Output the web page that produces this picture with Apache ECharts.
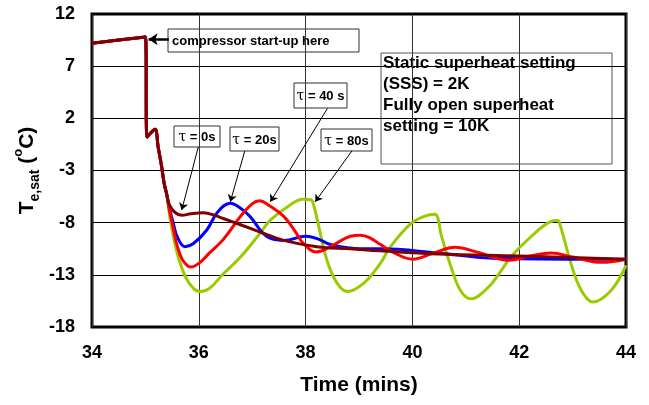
<!DOCTYPE html>
<html>
<head>
<meta charset="utf-8">
<script src="https://cdn.jsdelivr.net/npm/echarts@6/dist/echarts.min.js"></script>
<style>
  html, body { margin: 0; padding: 0; background: #fff; }
  #chart { width: 649px; height: 405px; }
</style>
</head>
<body>
<div id="chart"></div>
<script>
// common start-up part shared by all runs (time in mins, Te,sat in °C)
const startUp = [[34, 9.2], [35.0, 9.8], [35.03, 0.2], [35.1, 0.6], [35.18, 0.95], [35.24, -0.8], [35.3, -2.5], [35.35, -4.2], [35.4, -5.3]]

const tau0 = [[35.45, -6.3], [35.55, -7.0], [35.68, -7.3], [35.85, -7.15], [36.09, -7.05], [36.3, -7.3], [36.46, -7.6],
  [36.78, -8.2], [37.15, -8.9], [37.59, -9.7], [38.21, -10.3], [38.84, -10.5], [39.4, -10.7], [40.5, -11.0], [42.0, -11.2], [44, -11.5]]

const tau20 = [[35.45, -6.6], [35.52, -8.0], [35.6, -9.4], [35.74, -10.3], [35.9, -10.0], [36.15, -8.7], [36.35, -7.0],
  [36.59, -6.15], [36.75, -6.5], [36.96, -7.4], [37.2, -9.0], [37.4, -9.6], [37.6, -9.7], [38.0, -9.3], [38.25, -9.6],
  [38.47, -10.1], [39.03, -10.5], [39.4, -10.5], [40.47, -10.9], [41.5, -11.4], [44, -11.5]]

const tau40 = [[35.45, -6.8], [35.52, -8.5], [35.6, -10.3], [35.7, -11.6], [35.85, -12.25], [36.0, -11.9], [36.2, -10.9],
  [36.46, -9.6], [36.78, -7.4], [37.0, -6.2], [37.14, -5.9], [37.3, -6.3], [37.59, -7.4], [37.8, -8.8], [37.96, -10.0],
  [38.2, -10.8], [38.5, -10.2], [38.84, -9.3], [39.03, -9.2], [39.22, -9.5], [39.4, -10.1], [39.7, -11.0], [40.0, -11.5],
  [40.4, -10.9], [40.8, -10.35], [41.2, -10.8], [41.8, -11.6], [42.2, -11.2], [42.6, -10.9], [43.0, -11.3], [43.55, -11.8], [44.0, -11.5]]

const tau80 = [[35.45, -7.2], [35.5, -8.7], [35.6, -11.0], [35.75, -13.2], [35.9, -14.3], [36.03, -14.6], [36.2, -14.3],
  [36.46, -12.9], [36.78, -11.3], [37.15, -9.0], [37.34, -7.75], [37.71, -6.3], [37.95, -5.75], [38.1, -5.8], [38.15, -6.3],
  [38.22, -7.75], [38.4, -11.6], [38.59, -13.8], [38.78, -14.6], [39.09, -13.8], [39.4, -11.9], [39.59, -10.3], [39.97, -8.1],
  [40.22, -7.4], [40.42, -7.2], [40.48, -7.6], [40.53, -9.0], [40.72, -12.2], [40.9, -14.5], [41.09, -15.3], [41.4, -14.3],
  [41.65, -12.7], [41.84, -11.3], [42.22, -9.35], [42.59, -7.9], [42.72, -7.8], [42.77, -8.3], [42.81, -9.0], [43.03, -12.9],
  [43.2, -14.8], [43.38, -15.6], [43.72, -14.5], [44.0, -12.1]]

// arrows: [from, to] in data coords
const arrows = [
  [[38.41, 2.96], [37.34, -6.0]],
  [[35.99, -0.75], [35.68, -6.79]],
  [[36.86, -1.14], [36.59, -6.0]],
  [[38.87, -1.1], [38.18, -6.0]]
]
const startArrow = [[35.44, 9.57], [35.06, 9.57]]

const FONT = '"Liberation Sans", Arial, sans-serif'
const chart = echarts.init(document.getElementById('chart'))

const curve = (name, data, color) => ({
  name,
  type: 'line',
  data: startUp.concat(data),
  showSymbol: false,
  smooth: 0.4,
  lineStyle: { width: 3, color },
  itemStyle: { color },
  silent: true
})

const tauBox = (x, y, w, h, txt) => ([
  { type: 'rect', shape: { x, y, width: w, height: h }, style: { fill: '#fff', stroke: '#333', lineWidth: 1 } },
  {
    type: 'text', x: x + w / 2, y: y + h / 2 + 1,
    style: {
      text: '{g|τ} = ' + txt, align: 'center', verticalAlign: 'middle',
      font: 'bold 13px ' + FONT, fill: '#000',
      rich: { g: { fontFamily: '"DejaVu Serif", serif', fontWeight: 'normal', fontSize: 14, fill: '#000' } }
    }
  }
])

const option = {
  backgroundColor: '#fff',
  animation: false,
  grid: { left: 92, right: 23, top: 14, bottom: 78, show: true, borderColor: '#000', borderWidth: 3, backgroundColor: '#fff' },
  xAxis: {
    type: 'value', min: 34, max: 44, interval: 2,
    axisLine: { show: false }, axisTick: { show: false },
    axisLabel: { color: '#000', fontWeight: 'bold', fontSize: 18, fontFamily: FONT, margin: 17 },
    splitLine: { lineStyle: { color: '#333', width: 1 } },
    name: 'Time (mins)', nameLocation: 'middle', nameGap: 48, nameMoveOverlap: false,
    nameTextStyle: { color: '#000', fontWeight: 'bold', fontSize: 21, fontFamily: FONT }
  },
  yAxis: {
    type: 'value', min: -18, max: 12, interval: 5,
    axisLine: { show: false }, axisTick: { show: false },
    axisLabel: { color: '#000', fontWeight: 'bold', fontSize: 18, fontFamily: FONT, margin: 17 },
    splitLine: { lineStyle: { color: '#000', width: 1 } },
    name: '{t|T}{s|e,sat}{t| (}{o|o}{t|C)}', nameLocation: 'middle', nameGap: 50, nameRotate: 90, nameMoveOverlap: false,
    nameTextStyle: {
      color: '#000', fontFamily: FONT,
      rich: {
        t: { fontSize: 21, fontWeight: 'bold', fontFamily: FONT, color: '#000', lineHeight: 30, verticalAlign: 'middle' },
        s: { fontSize: 14, fontWeight: 'bold', fontFamily: FONT, color: '#000', lineHeight: 30, verticalAlign: 'bottom' },
        o: { fontSize: 13, fontWeight: 'bold', fontFamily: FONT, color: '#000', lineHeight: 30, verticalAlign: 'top' }
      }
    }
  },
  series: [
    curve('τ = 80s', tau80, '#99cc00'),
    curve('τ = 20s', tau20, '#0000ff'),
    curve('τ = 40 s', tau40, '#ff0000'),
    curve('τ = 0s', tau0, '#800000'),
    {
      type: 'line', data: [], silent: true, z: 5,
      markLine: {
        silent: true, animation: false,
        symbol: ['none', 'arrow'], symbolSize: 7,
        label: { show: false },
        lineStyle: { color: '#000', width: 1, type: 'solid' },
        emphasis: { disabled: true },
        data: arrows.map(a => [{ coord: a[0] }, { coord: a[1] }]).concat([[
          { coord: startArrow[0], lineStyle: { width: 2.5, color: '#000', type: 'solid' } },
          { coord: startArrow[1], symbolSize: 9 }
        ]])
      }
    }
  ],
  graphic: [
    { type: 'rect', shape: { x: 168, y: 29, width: 191, height: 23 }, style: { fill: '#fff', stroke: '#333', lineWidth: 1 } },
    { type: 'text', x: 172, y: 41, style: { text: 'compressor start-up here', verticalAlign: 'middle', font: 'bold 13px ' + FONT, fill: '#000' } },
    ...tauBox(174, 126, 46, 21, '0s'),
    ...tauBox(230, 127, 49, 24, '20s'),
    ...tauBox(294, 83, 53, 25, '40 s'),
    ...tauBox(321, 129, 51, 22, '80s'),
    { type: 'rect', shape: { x: 381, y: 53, width: 231, height: 111 }, style: { fill: '#fff', stroke: '#555', lineWidth: 1 } },
    {
      type: 'text', x: 383, y: 53,
      style: {
        text: 'Static superheat setting\n(SSS) = 2K\nFully open superheat\nsetting = 10K',
        font: 'bold 17px ' + FONT, fill: '#000', lineHeight: 21, verticalAlign: 'top'
      }
    }
  ]
}

chart.setOption(option)
</script>
</body>
</html>
